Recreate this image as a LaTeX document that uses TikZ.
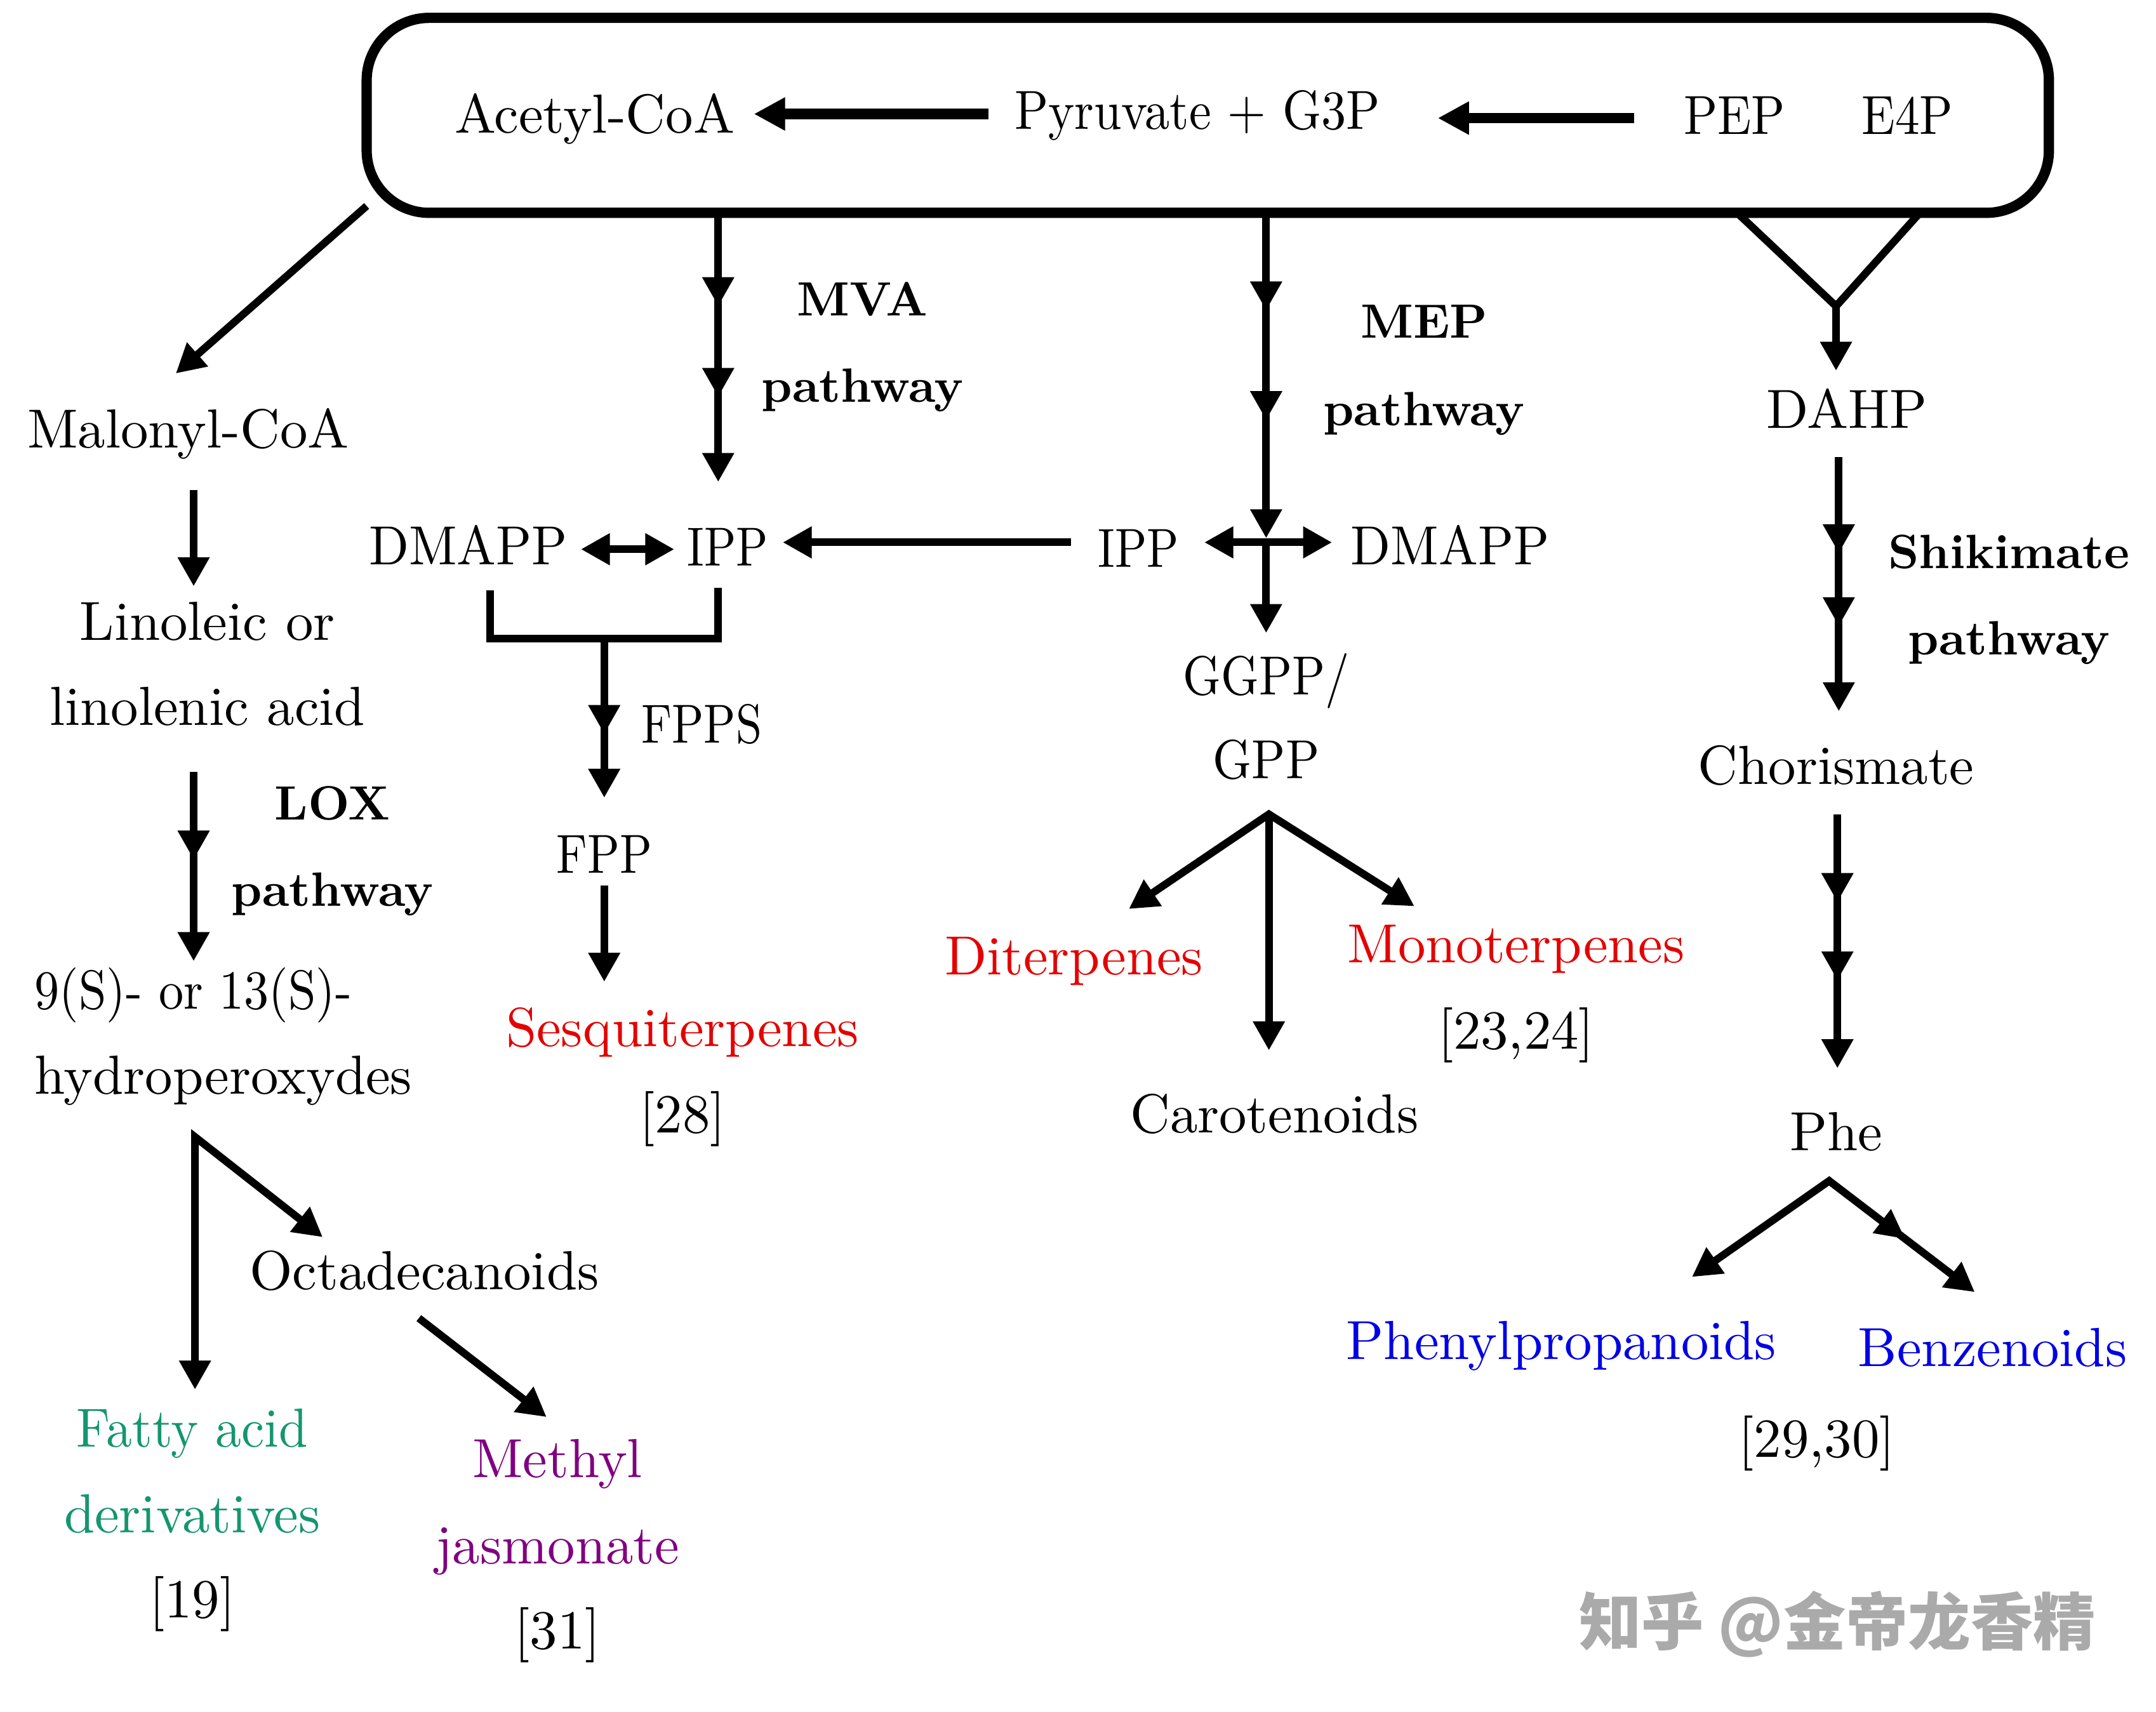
\documentclass[tikz,border=0pt]{standalone}
\usepackage{fontspec}
\setmainfont{lmroman10-regular.otf}[BoldFont=lmroman10-bold.otf]
\newfontfamily\cjk{Noto Sans CJK SC}
\usetikzlibrary{arrows.meta,decorations.markings,fit}
\definecolor{myred}{RGB}{228,0,0}
\definecolor{mygreen}{RGB}{20,150,110}
\definecolor{mypurple}{RGB}{128,0,128}
\definecolor{myblue}{RGB}{0,0,230}
\definecolor{wmgray}{RGB}{170,170,170}
\newcommand{\nx}[2]{\scalebox{#1}[1]{#2}}
\tikzset{
  Tri/.tip={Triangle[length=13pt,width=13.5pt]},
  BigTri/.tip={Triangle[length=14pt,width=14pt]},
  txt/.style={font=\fontsize{24.7}{30}\selectfont, inner sep=0pt, anchor=base},
  btxt/.style={font=\fontsize{21.6}{26}\selectfont\bfseries, inner sep=0pt, anchor=base},
  conn/.style={line width=3.4pt, -Tri},
  dconn/.style={line width=3.4pt, Tri-Tri},
  plain/.style={line width=3.4pt},
  boxarrow/.style={line width=4.8pt, -BigTri},
  midat/.style={postaction={decorate, decoration={markings, mark=at position #1 with {\arrow{Tri}}}}},
}
\begin{document}
\begin{tikzpicture}[x=0.02163cm, y=-0.02163cm, line join=miter]
\useasboundingbox (0,0) rectangle (1570,1246.5);

% top frame
\coordinate (bx1) at (267,13);
\coordinate (bx2) at (1492,155);
\node[fit=(bx1)(bx2), inner sep=0pt, draw, line width=4.6pt, rounded corners=28pt] (topbox) {};

\node[txt] (acetyl) at (433,97) {Acetyl-CoA};
\node[txt] (pyr) at (872,94) {\nx{0.9}{Pyruvate + G3P}};
\node[txt] (pep) at (1263,98) {\nx{0.9}{PEP}};
\node[txt] (e4p) at (1389,98) {\nx{0.89}{E4P}};
\coordinate (a1s) at (720,83); \coordinate (a1e) at (549,83);
\coordinate (a2s) at (1190,86); \coordinate (a2e) at (1047,86);
\draw[boxarrow] (a1s) -- (a1e);
\draw[boxarrow] (a2s) -- (a2e);

% MVA
\coordinate (mvaS) at (523,155); \coordinate (mvaE) at (523,351);
\draw[conn, midat=0.347, midat=0.684] (mvaS) -- (mvaE);
\node[btxt] (mva) at (628,230) {MVA};
\node[btxt] (mvap) at (628,293) {pathway};

% MEP
\coordinate (mepS) at (922,155); \coordinate (mepE) at (922,392);
\draw[conn, midat=0.30, midat=0.637] (mepS) -- (mepE);
\node[btxt] (mep) at (1037,246) {MEP};
\node[btxt] (mepp) at (1037,310) {pathway};

% IPP / DMAPP
\node[txt] (dmappL) at (341,411) {\nx{0.95}{DMAPP}};
\node[txt] (ippL) at (530,412) {\nx{0.85}{IPP}};
\node[txt] (ippR) at (829,413) {\nx{0.85}{IPP}};
\node[txt] (dmappR) at (1056,411) {\nx{0.95}{DMAPP}};
\coordinate (dL1) at (423,400); \coordinate (dL2) at (491,400);
\draw[dconn] (dL1) -- (dL2);
\coordinate (ipS) at (780,395); \coordinate (ipE) at (570,395);
\draw[conn] (ipS) -- (ipE);
\coordinate (crL) at (877,395); \coordinate (crR) at (970,395);
\draw[dconn] (crL) -- (crR);
\coordinate (crC) at (922,395); \coordinate (ggE) at (922,461);
\draw[conn] (crC) -- (ggE);

% bracket and FPP
\coordinate (br1) at (357,430); \coordinate (br2) at (357,465);
\coordinate (br3) at (523,465); \coordinate (br4) at (523,428);
\draw[plain] (br1) -- (br2) -- (br3) -- (br4);
\coordinate (fpS) at (440,465); \coordinate (fpE) at (440,581);
\draw[conn, midat=0.6] (fpS) -- (fpE);
\node[txt] (fpps) at (511,541) {\nx{0.85}{FPPS}};
\node[txt] (fpp) at (440,636) {\nx{0.86}{FPP}};
\coordinate (sqS) at (440,645); \coordinate (sqE) at (440,715);
\draw[conn] (sqS) -- (sqE);
\node[txt, text=myred] (sesq) at (497,762) {Sesquiterpenes};
\node[txt] (r28) at (497,825) {[28]};

% GGPP
\node[txt] (ggpp) at (922,506) {\nx{0.88}{GGPP/}};
\node[txt] (gpp) at (922,567) {\nx{0.9}{GPP}};
\coordinate (gO) at (924,593);
\coordinate (gL) at (822,662); \coordinate (gR) at (1030,660); \coordinate (gD) at (924,765);
\draw[dconn] (gL) -- (gO) -- (gR);
\draw[conn] ([yshift=-2pt]gO) -- (gD);
\node[txt, text=myred] (dit) at (782,710) {Diterpenes};
\node[txt, text=myred] (mono) at (1104,701) {Monoterpenes};
\node[txt] (r2324) at (1104,764) {[23,24]};
\node[txt] (caro) at (928,825) {Carotenoids};

% Shikimate
\coordinate (v1) at (1265,155); \coordinate (vA) at (1337,223); \coordinate (v2) at (1398,155);
\draw[plain] (v1) -- (vA) -- (v2);
\coordinate (dahpE) at (1337,270);
\draw[conn] (vA) -- (dahpE);
\node[txt] (dahp) at (1345,312) {DAHP};
\coordinate (shS) at (1339,333); \coordinate (shE) at (1339,518);
\draw[conn, midat=0.378, midat=0.665] (shS) -- (shE);
\node[btxt] (shik) at (1463,414) {Shikimate};
\node[btxt] (shikp) at (1463,477) {pathway};
\node[txt] (chor) at (1337,571) {Chorismate};
\coordinate (chS) at (1338,593); \coordinate (chE) at (1338,778);
\draw[conn, midat=0.346, midat=0.654] (chS) -- (chE);
\node[txt] (phe) at (1337,838) {Phe};
\coordinate (pO) at (1332,860); \coordinate (pL) at (1232,930); \coordinate (pR) at (1438,941);
\draw[dconn] (pL) -- (pO) -- (pR);
\path[midat=0.52] (pO) -- (pR);
\node[txt, text=myblue] (phen) at (1137,990) {Phenylpropanoids};
\node[txt, text=myblue] (benz) at (1451,995) {Benzenoids};
\node[txt] (r2930) at (1323,1061) {[29,30]};

% left side
\coordinate (lS) at (267,150); \coordinate (lE) at (128,272);
\draw[conn] (lS) -- (lE);
\node[txt] (malo) at (137,326) {Malonyl-CoA};
\coordinate (mS) at (141,357); \coordinate (mE) at (141,427);
\draw[conn] (mS) -- (mE);
\node[txt] (lin1) at (151,466) {Linoleic or};
\node[txt] (lin2) at (151,528) {linolenic acid};
\coordinate (lxS) at (141,562); \coordinate (lxE) at (141,700);
\draw[conn, midat=0.464] (lxS) -- (lxE);
\node[btxt] (lox) at (242,597) {LOX};
\node[btxt] (loxp) at (242,660) {pathway};
\node[txt, anchor=base west] (hp1) at (25,735) {\nx{0.9}{9(S)- or 13(S)-}};
\node[txt, anchor=base west] (hp2) at (25,797) {hydroperoxydes};
\coordinate (hO) at (142,828); \coordinate (hD) at (142,1012); \coordinate (hR) at (235,901);
\draw[dconn] (hD) -- (hO) -- (hR);
\node[txt] (octa) at (309,939) {Octadecanoids};
\coordinate (oS) at (305,960); \coordinate (oE) at (398,1032);
\draw[conn] (oS) -- (oE);
\node[txt, text=mygreen] (fa1) at (140,1054) {\nx{0.94}{Fatty acid}};
\node[txt, text=mygreen] (fa2) at (140,1116) {derivatives};
\node[txt] (r19) at (140,1178) {[19]};
\node[txt, text=mypurple] (mj1) at (406,1076) {Methyl};
\node[txt, text=mypurple] (mj2) at (406,1139) {jasmonate};
\node[txt] (r31) at (406,1201) {[31]};

% watermark
\node[inner sep=0pt, text=wmgray, font=\cjk\bfseries\fontsize{28}{32}\selectfont] (wm) at (1338,1183) {知乎 @金帝龙香精};
\end{tikzpicture}
\end{document}
